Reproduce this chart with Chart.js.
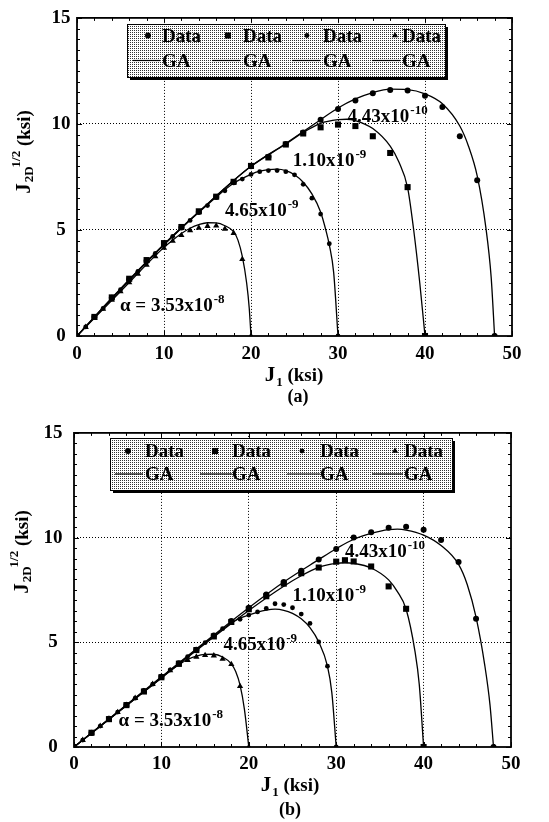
<!DOCTYPE html>
<html>
<head>
<meta charset="utf-8">
<script src="https://cdn.jsdelivr.net/npm/chart.js@4.4.0/dist/chart.umd.min.js"></script>
<style>
  body { margin: 0; background: #fff; }
  .box { position: relative; width: 549px; }
</style>
</head>
<body>
<div class="box" style="height:410px"><canvas id="chartA"></canvas></div>
<div class="box" style="height:412px"><canvas id="chartB"></canvas></div>
<script>
// ---------- data ----------
const xTicks = [0, 10, 20, 30, 40, 50];
const yTicks = [0, 5, 10, 15];
const dataNames = ['Data', 'Data', 'Data', 'Data'];
const curveNames = ['GA', 'GA', 'GA', 'GA'];
const alphaLabels = [['4.43x10', '-10'], ['1.10x10', '-9'], ['4.65x10', '-9'], ['\u03B1 = 3.53x10', '-8']];

// (a) measured points
const aData443 = [[0,0],[2,0.9],[4,1.8],[6,2.68],[8,3.55],[10,4.35],[12,5.12],[14,5.85],[16,6.55],[18,7.25],[20,8.0],[22,8.45],[24,9.05],[26,9.6],[28,10.2],[30,10.7],[32,11.1],[34,11.45],[36,11.6],[38,11.58],[40,11.33],[42,10.8],[44,9.42],[46,7.35],[48,0]];
const aData110 = [[0,0],[2,0.9],[4,1.82],[6,2.7],[8,3.58],[10,4.38],[12,5.14],[14,5.88],[16,6.57],[18,7.27],[20,8.02],[22,8.42],[24,9.03],[26,9.55],[28,9.84],[30,9.97],[32,9.9],[34,9.42],[36,8.63],[38,7.02],[40,0]];
const aData465 = [[0,0],[1,0.43],[3,1.3],[5,2.18],[7,3.05],[9,3.9],[11,4.7],[13,5.45],[15,6.15],[17,6.85],[19,7.4],[20,7.62],[21,7.75],[22,7.8],[23,7.8],[24,7.75],[25,7.6],[26,7.15],[27,6.5],[28,5.75],[29,4.35],[30,0]];
const aData353 = [[0,0],[1,0.42],[2,0.85],[3,1.27],[4,1.7],[5,2.1],[6,2.52],[7,2.93],[8,3.35],[9,3.75],[10,4.15],[11,4.48],[12,4.75],[13,4.98],[14,5.1],[15,5.18],[16,5.2],[17,5.05],[18,4.85],[19,3.62],[20,0]];
// (a) GA curves
const aGA443 = [[0,0],[4,1.78],[10,4.32],[14,5.85],[20,8.0],[24,9.08],[28,10.2],[30,10.75],[32,11.18],[34,11.48],[36,11.64],[38,11.62],[40,11.42],[42,10.95],[44,9.9],[45,8.95],[46,7.55],[47,5.1],[47.6,2.8],[48,0]];
const aGA110 = [[0,0],[4,1.8],[10,4.33],[14,5.86],[20,8.0],[24,9.05],[26,9.6],[28,10.03],[30,10.2],[31,10.22],[32,10.16],[34,9.78],[36,8.95],[37,8.2],[38,7.0],[38.7,5.0],[39.4,2.5],[40,0]];
const aGA465 = [[0,0],[10,4.3],[16,6.55],[18,7.2],[20,7.62],[21,7.77],[22,7.85],[23,7.87],[24,7.8],[25,7.6],[26,7.25],[27,6.7],[28,5.85],[28.6,5.0],[29,4.3],[29.5,3.0],[30,0]];
const aGA353 = [[0,0],[5,2.1],[10,4.18],[11,4.52],[12,4.83],[13,5.08],[14,5.25],[15,5.34],[16,5.33],[17,5.2],[18,4.92],[18.5,4.52],[19,3.75],[19.5,2.5],[19.8,1.3],[20,0]];

// (b) measured points
const bData443 = [[0,0],[2,0.67],[4,1.35],[6,2.0],[8,2.67],[10,3.35],[12,4.0],[14,4.65],[16,5.32],[18,6.02],[20,6.65],[22,7.28],[24,7.88],[26,8.42],[28,8.95],[30,9.45],[32,10.0],[34,10.25],[36,10.47],[38,10.52],[40,10.37],[42,9.88],[44,8.83],[46,6.12],[48,0]];
const bData110 = [[0,0],[2,0.68],[4,1.33],[6,2.0],[8,2.65],[10,3.33],[12,3.98],[14,4.63],[16,5.28],[18,5.97],[20,6.58],[22,7.2],[24,7.8],[26,8.3],[28,8.57],[30,8.85],[31,8.92],[32,8.86],[34,8.62],[36,7.67],[38,6.6],[40,0]];
const bData465 = [[0,0],[1,0.33],[3,1.0],[5,1.67],[7,2.33],[9,3.0],[11,3.68],[13,4.32],[15,4.98],[17,5.65],[19,6.1],[20,6.3],[21,6.45],[22,6.62],[23,6.84],[24,6.8],[25,6.65],[26,6.35],[27,5.9],[28,5.02],[29,3.86],[30,0]];
const bData353 = [[0,0],[1,0.33],[2,0.66],[3,1.0],[4,1.33],[5,1.66],[6,2.0],[7,2.33],[8,2.66],[9,3.0],[10,3.33],[11,3.65],[12,3.92],[13,4.15],[14,4.3],[15,4.38],[16,4.36],[17,4.2],[18,3.95],[19,2.9],[20,0]];
// (b) GA curves
const bGA443 = [[0,0],[10,3.35],[20,6.65],[24,7.88],[28,8.95],[30,9.47],[32,9.92],[34,10.2],[36,10.38],[37,10.4],[38,10.36],[40,10.12],[42,9.62],[44,8.72],[45,7.75],[46,6.2],[47,3.9],[47.6,2.0],[48,0]];
const bGA110 = [[0,0],[10,3.3],[20,6.52],[24,7.68],[26,8.18],[28,8.58],[30,8.77],[31,8.8],[32,8.77],[34,8.55],[36,7.98],[37,7.42],[38,6.58],[39,4.6],[39.5,3.0],[40,0]];
const bGA465 = [[0,0],[10,3.32],[16,5.3],[18,5.92],[19,6.15],[20,6.3],[21,6.44],[22,6.54],[23,6.58],[24,6.53],[25,6.38],[26,6.12],[27,5.7],[28,5.02],[29,3.86],[29.5,2.6],[30,0]];
const bGA353 = [[0,0],[10,3.3],[11,3.64],[12,3.93],[13,4.18],[14,4.34],[15,4.42],[16,4.43],[17,4.3],[18,3.97],[18.5,3.6],[19,2.95],[19.5,1.8],[20,0]];

// ---------- layout of each panel (pixels) ----------
const FONT = 'Liberation Serif';
const layoutA = {
  H: 410, left: 77, right: 512, top: 17, bottom: 336, yPad: 6.5, xPad: 7,
  legend: { box: [127, 24, 318, 53], row1: 41.5, row2: 66.5,
            text: [162, 243, 323, 402], mark: [148, 228, 307, 395],
            line: [[133, 160], [212, 240], [292, 320], [372, 400]] },
  yTitle: [25, 152], xTitle: [294, 381], cap: [298, 402, '(a)'],
  notes: [[31.1, 10.1], [24.8, 8.0], [17.0, 5.64], [4.94, 1.18]]
};
const layoutB = {
  H: 412, left: 74, right: 511, top: 18, bottom: 337, yPad: 11.5, xPad: 6,
  legend: { box: [110, 28, 342, 52], row1: 47, row2: 70,
            text: [145, 232, 320, 404], mark: [128, 215, 302, 395],
            line: [[115, 143], [200, 232], [287, 320], [372, 403]] },
  yTitle: [23, 142], xTitle: [290, 381], cap: [290, 405, '(b)'],
  notes: [[31.0, 9.07], [25.0, 6.96], [17.1, 4.65], [5.1, 0.99]]
};

// marker styles for the four data series
const marks = [
  { style: 'circle', r: 3 },
  { style: 'rect', r: 4.3 },
  { style: 'circle', r: 2.4 },
  { style: 'triangle', r: 3.6 }
];

function toXY(arr) {
  return arr.map(p => ({ x: p[0], y: p[1] }));
}

function drawMark(ctx, m, x, y) {
  ctx.beginPath();
  if (m.style === 'circle') {
    ctx.arc(x, y, m.r, 0, Math.PI * 2);
  } else if (m.style === 'rect') {
    const s = m.r * Math.SQRT1_2;
    ctx.rect(x - s, y - s, 2 * s, 2 * s);
  } else {
    const r = m.r;
    ctx.moveTo(x, y - r);
    ctx.lineTo(x + r * 0.866, y + r * 0.5);
    ctx.lineTo(x - r * 0.866, y + r * 0.5);
    ctx.closePath();
  }
  ctx.fill();
}

// draws a run of text pieces: [text, size, dy, dx]
function drawRich(ctx, parts, x, y, centered) {
  let w = 0;
  parts.forEach(p => {
    ctx.font = 'bold ' + p[1] + 'px "' + FONT + '"';
    p.w = ctx.measureText(p[0]).width;
    w += p.w + (p[3] || 0);
  });
  let cx = centered ? x - w / 2 : x;
  parts.forEach(p => {
    ctx.font = 'bold ' + p[1] + 'px "' + FONT + '"';
    cx += (p[3] || 0);
    ctx.fillText(p[0], cx, y + (p[2] || 0));
    cx += p.w;
  });
}

function stipple(ctx) {
  const c = document.createElement('canvas');
  c.width = 2; c.height = 2;
  const g = c.getContext('2d');
  g.fillStyle = '#fff';
  g.fillRect(0, 0, 2, 2);
  g.fillStyle = '#333';
  g.fillRect(0, 0, 1, 1);
  return ctx.createPattern(c, 'repeat');
}

const panelPlugin = {
  id: 'panel',
  afterDraw(chart, args, L) {
    const { ctx, chartArea: ca, scales: { x, y } } = chart;
    ctx.save();
    ctx.fillStyle = '#000';
    ctx.strokeStyle = '#000';

    // frame
    ctx.lineWidth = 1.8;
    ctx.strokeRect(ca.left, ca.top, ca.right - ca.left, ca.bottom - ca.top);

    // inward ticks on all four sides
    ctx.lineWidth = 1;
    ctx.beginPath();
    for (let v = xTicks[0]; v <= xTicks[xTicks.length - 1]; v += 2) {
      const px = Math.round(x.getPixelForValue(v)) + 0.5;
      const len = v % 10 === 0 ? 5 : 3;
      ctx.moveTo(px, ca.bottom); ctx.lineTo(px, ca.bottom - len);
      ctx.moveTo(px, ca.top); ctx.lineTo(px, ca.top + len);
    }
    for (let v = yTicks[0]; v <= yTicks[yTicks.length - 1]; v += 0.5) {
      const py = Math.round(y.getPixelForValue(v)) + 0.5;
      const len = v % 5 === 0 ? 5 : 3;
      ctx.moveTo(ca.left, py); ctx.lineTo(ca.left + len, py);
      ctx.moveTo(ca.right, py); ctx.lineTo(ca.right - len, py);
    }
    ctx.stroke();

    // alpha labels on the curves
    ctx.textBaseline = 'alphabetic';
    L.notes.forEach((n, i) => {
      const px = x.getPixelForValue(n[0]);
      const py = y.getPixelForValue(n[1]);
      drawRich(ctx, [[alphaLabels[i][0], 19, 0], [alphaLabels[i][1], 13, -8, 1]], px, py, false);
    });

    // legend box with shadow and stippled fill
    const lg = L.legend;
    const [bx, by, bw, bh] = lg.box;
    ctx.fillRect(bx + 3, by + 3, bw, bh);
    ctx.fillStyle = stipple(ctx);
    ctx.fillRect(bx, by, bw, bh);
    ctx.fillStyle = '#000';
    ctx.lineWidth = 1;
    ctx.strokeRect(bx + 0.5, by + 0.5, bw, bh);
    ctx.font = 'bold 19px "' + FONT + '"';
    const sets = chart.data.datasets;
    for (let i = 0; i < 4; i++) {
      drawMark(ctx, marks[i], lg.mark[i], lg.row1 - 6);
      ctx.fillText(sets[i].label, lg.text[i], lg.row1);
      ctx.lineWidth = 1.2;
      ctx.beginPath();
      ctx.moveTo(lg.line[i][0], lg.row2 - 6);
      ctx.lineTo(lg.line[i][1], lg.row2 - 6);
      ctx.stroke();
      ctx.fillText(sets[i + 4].label, lg.text[i], lg.row2);
    }

    // axis titles
    ctx.save();
    ctx.translate(L.yTitle[0], L.yTitle[1]);
    ctx.rotate(-Math.PI / 2);
    ctx.textBaseline = 'middle';
    drawRich(ctx, [['J', 21, 0], ['2D', 13, 5, 1], ['1/2', 13, -8, -1], [' (ksi)', 19, 0]], 0, 0, true);
    ctx.restore();
    drawRich(ctx, [['J', 21, 0], ['1', 13, 5, 1], [' (ksi)', 19, 0]], L.xTitle[0], L.xTitle[1], true);
    drawRich(ctx, [[L.cap[2], 18, 0]], L.cap[0], L.cap[1], true);
    ctx.restore();
  }
};

function build(id, L, pts, curves) {
  const datasets = [];
  pts.forEach((arr, i) => {
    datasets.push({
      label: dataNames[i],
      data: toXY(arr),
      showLine: false,
      pointStyle: marks[i].style,
      pointRadius: marks[i].r,
      pointBackgroundColor: '#000',
      pointBorderWidth: 0
    });
  });
  curves.forEach((arr, i) => {
    datasets.push({
      label: curveNames[i],
      data: toXY(arr),
      showLine: true,
      borderColor: '#000',
      borderWidth: 1.3,
      pointRadius: 0,
      cubicInterpolationMode: 'monotone'
    });
  });

  const tickFont = { family: FONT, size: 19, weight: 'bold' };
  const gridColor = c => (c.tick && (c.tick.value === 0 || c.tick.value === 50 || c.tick.value === 15)) ? 'rgba(0,0,0,0)' : '#000';

  return new Chart(document.getElementById(id), {
    type: 'scatter',
    data: { datasets },
    options: {
      responsive: true,
      maintainAspectRatio: false,
      animation: false,
      layout: { autoPadding: false, padding: { left: 0, right: 549 - L.right, top: L.top, bottom: 0 } },
      plugins: { legend: { display: false }, tooltip: { enabled: false }, panel: L },
      scales: {
        x: {
          type: 'linear', min: xTicks[0], max: xTicks[xTicks.length - 1],
          afterBuildTicks: s => { s.ticks = xTicks.map(v => ({ value: v })); },
          afterFit: s => { s.height = L.H - L.bottom; },
          ticks: { color: '#000', font: tickFont, padding: L.xPad, maxRotation: 0 },
          grid: { color: gridColor, lineWidth: 1, drawTicks: false },
          border: { display: false, dash: [1, 2] }
        },
        y: {
          type: 'linear', min: yTicks[0], max: yTicks[yTicks.length - 1],
          afterBuildTicks: s => { s.ticks = yTicks.map(v => ({ value: v })); },
          afterFit: s => { s.width = L.left; },
          ticks: { color: '#000', font: tickFont, padding: L.yPad, crossAlign: 'center' },
          grid: { color: gridColor, lineWidth: 1, drawTicks: false },
          border: { display: false, dash: [1, 2] }
        }
      }
    },
    plugins: [panelPlugin]
  });
}

build('chartA', layoutA, [aData443, aData110, aData465, aData353], [aGA443, aGA110, aGA465, aGA353]);
build('chartB', layoutB, [bData443, bData110, bData465, bData353], [bGA443, bGA110, bGA465, bGA353]);
</script>
</body>
</html>
